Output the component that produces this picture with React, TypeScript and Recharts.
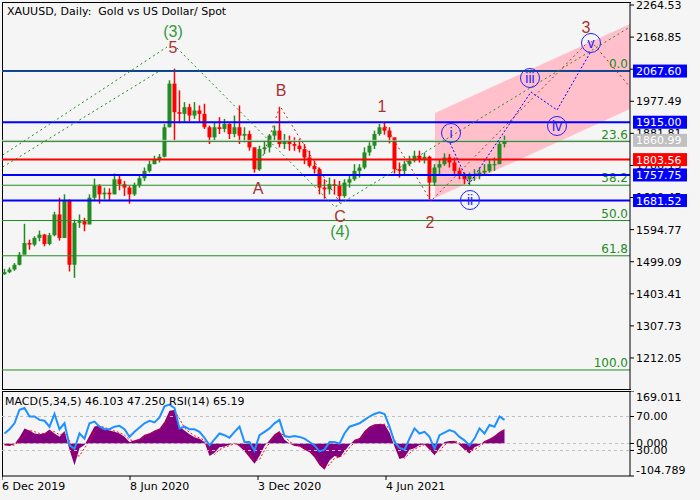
import React from "react";
import {
  ComposedChart,
  Bar,
  Line,
  Area,
  Scatter,
  XAxis,
  YAxis,
  ReferenceLine,
} from "recharts";

// ---- price data: one bar per 5 trading days, from 6 Dec 2019 ----
const firstOpen = 1462;
const closes = [
  1468, 1476, 1490, 1520, 1555, 1550, 1570, 1580, 1552, 1578, 1640, 1570, 1680, 1490, 1615, 1620, 1610, 1690, 1725, 1700,
  1705, 1700, 1745, 1730, 1720, 1700, 1728, 1748, 1770, 1790, 1805, 1812, 1900, 2030, 1945, 1940, 1960, 1935, 1950, 1940,
  1900, 1870, 1900, 1895, 1910, 1880, 1900, 1875, 1880, 1840, 1775, 1835, 1840, 1875, 1890, 1850, 1860, 1850, 1845, 1835,
  1810, 1785, 1775, 1720, 1715, 1730, 1725, 1695, 1735, 1745, 1770, 1780, 1825, 1845, 1880, 1900, 1890, 1870, 1775, 1770,
  1790, 1800, 1815, 1805, 1812, 1735, 1780, 1790, 1810, 1795, 1770, 1755, 1745, 1755, 1760, 1765, 1770, 1790, 1790, 1850,
  1861,
];
const highs = [
  1478, 1482, 1495, 1528, 1612, 1565, 1575, 1592, 1582, 1585, 1648, 1690, 1700, 1685, 1625, 1640, 1630, 1700, 1747, 1730,
  1720, 1718, 1762, 1760, 1740, 1725, 1735, 1755, 1780, 1800, 1815, 1820, 1910, 2040, 2075, 2010, 1975, 1970, 1975, 1965,
  1970, 1905, 1915, 1930, 1925, 1912, 1935, 1965, 1900, 1890, 1840, 1845, 1860, 1880, 1905, 1960, 1880, 1875, 1870, 1865,
  1850, 1830, 1800, 1780, 1745, 1750, 1745, 1740, 1745, 1755, 1790, 1790, 1840, 1855, 1890, 1910, 1916, 1900, 1862, 1795,
  1800, 1815, 1830, 1830, 1825, 1815, 1790, 1805, 1822, 1820, 1810, 1780, 1765, 1765, 1775, 1780, 1790, 1805, 1810, 1860,
  1875,
];
const lows = [
  1460, 1465, 1472, 1488, 1530, 1535, 1545, 1560, 1545, 1548, 1575, 1562, 1575, 1470, 1451, 1600, 1590, 1620, 1680, 1672,
  1685, 1682, 1700, 1712, 1695, 1672, 1695, 1720, 1740, 1765, 1790, 1795, 1810, 1900, 1861, 1912, 1915, 1918, 1925, 1915,
  1895, 1850, 1862, 1880, 1885, 1865, 1870, 1850, 1855, 1830, 1765, 1770, 1820, 1825, 1860, 1840, 1835, 1830, 1830, 1825,
  1790, 1780, 1762, 1700, 1687, 1700, 1700, 1681, 1690, 1720, 1740, 1750, 1775, 1815, 1835, 1875, 1878, 1852, 1762, 1750,
  1755, 1785, 1795, 1795, 1792, 1686, 1725, 1760, 1785, 1780, 1755, 1745, 1730, 1727, 1740, 1745, 1755, 1765, 1770, 1790,
  1840,
];

// ---- MACD(5,34,5) histogram, its signal, and RSI(14), same bars ----
const macdHist = [
  -6, -8, -2, 20, 48, 42, 32, 30, 33, 45, 32, 22, 40, -20, -70, -15, -5, 25, 55, 58,
  48, 42, 38, 32, 22, 5, 10, 15, 28, 33, 42, 48, 70, 105, 108, 55, 42, 30, 20, 15,
  5, -40, -30, -12, -10, -4, 2, -10, -25, -45, -65, -40, -8, 10, 30, 40, 12, 0, -8, -10,
  -20, -28, -45, -70, -85, -55, -40, -45, -25, -5, 12, 18, 40, 55, 62, 63, 62, 35, -10, -50,
  -45, -20, -15, -5, -3, -20, -38, -15, 5, 8, 8, -5, -20, -32, -12, -5, 8, 15, 25, 38,
  47,
];
const macdSignal = [
  -4, -6, -5, 8, 30, 42, 38, 32, 31, 38, 38, 28, 32, 10, -40, -40, -15, 8, 38, 55,
  52, 45, 40, 35, 27, 12, 8, 12, 22, 30, 38, 45, 60, 88, 105, 80, 50, 36, 25, 18,
  10, -18, -35, -20, -12, -7, -1, -5, -18, -35, -55, -52, -22, 2, 20, 35, 25, 6, -4, -9,
  -15, -24, -36, -58, -78, -68, -48, -44, -34, -14, 4, 15, 30, 48, 58, 62, 62, 48, 12, -30,
  -48, -32, -18, -10, -4, -12, -30, -25, -5, 5, 8, 2, -12, -26, -20, -9, 2, 12, 20, 32,
  43,
];
const rsiValues = [
  50, 55, 62, 78, 80, 70, 70, 66, 65, 58, 73, 55, 62, 36, 32, 50, 44, 62, 64, 58,
  55, 55, 58, 59, 55, 46, 52, 57, 62, 65, 63, 69, 82, 84, 80, 56, 58, 55, 55, 52,
  45, 36, 43, 50, 48, 45, 52, 58, 40, 40, 30, 48, 52, 56, 62, 66, 47, 46, 47, 46,
  44, 40, 36, 29, 31, 40, 40, 38, 50, 58, 60, 62, 66, 70, 73, 75, 73, 58, 40, 33,
  31, 44, 56, 50, 52, 46, 32, 48, 51, 54, 52, 46, 42, 36, 44, 56, 50, 60, 58, 70,
  66,
];

// ---- levels ----
const priceTicks = [2264.53, 2168.85, 2073.17, 1977.49, 1881.81, 1786.13, 1690.45, 1594.77, 1499.09, 1403.41, 1307.73, 1212.05];
const resistanceTop = 2067.6;
const blueLevels = [1915.0, 1757.75, 1681.52];
const redLevel = 1803.56;
const currentPrice = 1860.99;
const fibHigh = 2067.6;
const fibLow = 1176.3;
const fibRatios = [0, 23.6, 38.2, 50, 61.8, 100];

// ---- wave lines: x in trading days from the first bar, p = price ----
const greenPaths = [
  [{ x: 0.7, p: 1817.3 }, { x: 165, p: 2139.3 }],
  [{ x: 0.7, p: 1781.5 }, { x: 158, p: 2068.7 }],
  [{ x: 175, p: 2136.3 }, { x: 333, p: 1662.2 }, { x: 628, p: 2199.0 }],
];
const redPaths = [
  [{ x: 256, p: 1772.6 }, { x: 278, p: 1963.4 }, { x: 338, p: 1674.2 }],
  [{ x: 381, p: 1915.7 }, { x: 429, p: 1680.2 }, { x: 588, p: 2160.2 }, { x: 628, p: 2020.1 }],
];
const minorPath = [
  { x: 448, p: 1853.1 },
  { x: 467, p: 1730.8 },
  { x: 529, p: 2005.2 },
  { x: 555, p: 1951.5 },
  { x: 588, p: 2121.4 },
];
const channel = [
  { x: 433, band: [1689.1, 1942.5] },
  { x: 628, band: [1954.5, 2207.9] },
];

// ---- wave labels ----
const intermediateLabels = [
  { x: 171, p: 2187.0, t: "(3)" },
  { x: 338, p: 1590.7, t: "(4)" },
];
const primaryLabels = [
  { x: 171, p: 2139.3, t: "5" },
  { x: 279, p: 2011.1, t: "B" },
  { x: 256, p: 1718.9, t: "A" },
  { x: 338, p: 1635.4, t: "C" },
  { x: 380, p: 1963.4, t: "1" },
  { x: 428, p: 1617.5, t: "2" },
  { x: 584, p: 2196.0, t: "3" },
];
const minorLabels = [
  { x: 449, p: 1882.9, t: "i" },
  { x: 468, p: 1683.1, t: "ii" },
  { x: 528, p: 2046.9, t: "iii" },
  { x: 555, p: 1903.8, t: "iv" },
  { x: 589, p: 2151.3, t: "v" },
];

const dateTickPos = [0, 128, 256, 384];
const dateTickLabels = ["6 Dec 2019", "8 Jun 2020", "3 Dec 2020", "4 Jun 2021"];

const macdMax = 169.011;
const macdMin = -104.789;

// ---- styling ----
const FONT = "DejaVu Sans, sans-serif";
const BG = "#f5f5f5";
const UP = "#228b22";
const DOWN = "#ff0000";
const FIB = "#228b22";
const BLUE = "#0000ff";
const WAVE_RED = "#a83232";
const WAVE_GREEN = "#2f9a3a";
const MINOR = "#2222ff";
const BAR_DAYS = 5;
const X_DOMAIN: [number, number] = [0, 628];
const PRICE_DOMAIN: [number, number] = [1119.6, 2273.5];
const TOP_PAD = 10;

const candles = closes.map((c, i) => ({
  x: BAR_DAYS / 2 + i * BAR_DAYS,
  o: i === 0 ? firstOpen : closes[i - 1],
  h: highs[i],
  l: lows[i],
  c,
  range: [lows[i], highs[i]],
}));

const oscData = macdHist.map((m, i) => ({
  x: BAR_DAYS / 2 + i * BAR_DAYS,
  hist: m,
  signal: macdSignal[i],
  rsi: rsiValues[i],
}));

function Candle(props: any) {
  const { x, y, width, height, payload } = props;
  if (x == null || y == null) return null;
  const { o, h, l, c } = payload;
  const hh = Math.abs(height);
  const k = h === l ? 0 : hh / (h - l);
  const color = c >= o ? UP : DOWN;
  const mid = x + width / 2;
  const yO = y + (h - o) * k;
  const yC = y + (h - c) * k;
  const top = Math.min(yO, yC);
  const bh = Math.max(1, Math.abs(yC - yO));
  return (
    <g>
      <line x1={mid} x2={mid} y1={y} y2={y + hh} stroke={color} strokeWidth={1.5} />
      <rect x={mid - 2} y={top} width={4} height={bh} fill={color} />
    </g>
  );
}

function PriceTag({ viewBox, text, fill }: any) {
  if (!viewBox) return null;
  const { x, y, width } = viewBox;
  const left = x + width + 3;
  return (
    <g>
      <rect x={left} y={y - 6.5} width={54} height={13} fill={fill} />
      <text x={left + 3} y={y} dy="0.36em" fill="#fff" fontSize={11} fontFamily={FONT}>
        {text}
      </text>
    </g>
  );
}

function FibTag({ viewBox, text }: any) {
  if (!viewBox) return null;
  const { x, y, width } = viewBox;
  return (
    <text x={x + width - 2} y={y - 3} textAnchor="end" fill={FIB} fontSize={12} fontFamily={FONT}>
      {text}
    </text>
  );
}

function RsiTag({ viewBox, text }: any) {
  if (!viewBox) return null;
  const { x, y, width } = viewBox;
  const r = x + width;
  return (
    <g>
      <line x1={r} x2={r + 4} y1={y} y2={y} stroke="#000" />
      <text x={r + 6} y={y} dy="0.36em" fill="#000" fontSize={11} fontFamily={FONT}>
        {text}
      </text>
    </g>
  );
}

function WaveText({ cx, cy, payload, color }: any) {
  return (
    <text x={cx} y={cy} textAnchor="middle" dominantBaseline="central" fill={color} fontSize={16} fontFamily="Liberation Sans, sans-serif">
      {payload.t}
    </text>
  );
}

function MinorText({ cx, cy, payload }: any) {
  return (
    <g>
      <circle cx={cx} cy={cy} r={9.5} fill="none" stroke={MINOR} strokeWidth={1} />
      <text x={cx} y={cy} textAnchor="middle" dominantBaseline="central" fill={MINOR} fontSize={14} fontFamily="Liberation Sans, sans-serif">
        {payload.t}
      </text>
    </g>
  );
}

function DateTick({ x, y, payload }: any) {
  const i = dateTickPos.indexOf(payload.value);
  return (
    <text x={x} y={y} dy="0.71em" fill="#000" fontSize={11} fontFamily={FONT}>
      {dateTickLabels[i]}
    </text>
  );
}

function MacdTick({ x, y, payload }: any) {
  const v = payload.value;
  const dy = v === macdMax ? 6 : v === macdMin ? -6 : 0;
  return (
    <text x={x} y={y + dy} dy="0.36em" fill="#000" fontSize={11} fontFamily={FONT}>
      {v.toFixed(3)}
    </text>
  );
}

const chartMargin = { top: TOP_PAD, right: 0, bottom: 0, left: 0 };

export default function App() {
  const fibPrices = fibRatios.map((r) => fibHigh - (r / 100) * (fibHigh - fibLow));
  return (
    <div style={{ position: "absolute", left: 0, top: 0, width: 700, height: 500, background: BG, overflow: "hidden" }}>
      <div
        style={{
          position: "absolute",
          left: 2,
          top: 2,
          width: 629,
          height: 388,
          boxSizing: "border-box",
          borderLeft: "1px solid #000",
          borderTop: "1px solid #000",
          borderBottom: "1px solid #000",
        }}
      />
      <div
        style={{
          position: "absolute",
          left: 2,
          top: 391,
          width: 629,
          height: 86,
          boxSizing: "border-box",
          borderLeft: "1px solid #000",
          borderTop: "1px solid #000",
        }}
      />

      {/* price panel */}
      <div style={{ position: "absolute", left: 2, top: 2 - TOP_PAD }}>
        <ComposedChart width={698} height={387 + TOP_PAD} data={candles} margin={chartMargin}>
          <XAxis dataKey="x" type="number" domain={X_DOMAIN} hide allowDataOverflow />
          <YAxis
            orientation="right"
            domain={PRICE_DOMAIN}
            ticks={priceTicks}
            interval={0}
            width={70}
            tickSize={4}
            tickMargin={2}
            allowDataOverflow
            axisLine={{ stroke: "#000" }}
            tickLine={{ stroke: "#000" }}
            tick={{ fill: "#000", fontSize: 11, fontFamily: FONT, textAnchor: "start" }}
            tickFormatter={(v: number) => v.toFixed(2)}
          />
          <Area
            data={channel}
            dataKey="band"
            type="linear"
            fill="#ffc0cb"
            fillOpacity={1}
            stroke="none"
            isAnimationActive={false}
          />
          {fibPrices.map((p, i) => (
            <ReferenceLine
              key={`fib-${i}`}
              y={p}
              stroke={FIB}
              strokeWidth={1}
              label={<FibTag text={fibRatios[i].toFixed(1)} />}
            />
          ))}
          <ReferenceLine y={resistanceTop} stroke={BLUE} strokeWidth={2} />
          <ReferenceLine y={resistanceTop} stroke={FIB} strokeWidth={1} />
          <ReferenceLine y={currentPrice} stroke="#c0c0c0" strokeWidth={1} />
          {blueLevels.map((p) => (
            <ReferenceLine key={`b-${p}`} y={p} stroke={BLUE} strokeWidth={2} />
          ))}
          <ReferenceLine y={redLevel} stroke={DOWN} strokeWidth={2} />

          <Bar dataKey="range" barSize={4} shape={<Candle />} isAnimationActive={false} />

          {greenPaths.map((d, i) => (
            <Line
              key={`g-${i}`}
              data={d}
              dataKey="p"
              type="linear"
              stroke={UP}
              strokeWidth={1}
              strokeDasharray="2 3"
              dot={false}
              isAnimationActive={false}
            />
          ))}
          {redPaths.map((d, i) => (
            <Line
              key={`r-${i}`}
              data={d}
              dataKey="p"
              type="linear"
              stroke={WAVE_RED}
              strokeWidth={1}
              strokeDasharray="2 3"
              dot={false}
              isAnimationActive={false}
            />
          ))}
          <Line
            data={minorPath}
            dataKey="p"
            type="linear"
            stroke={BLUE}
            strokeWidth={1}
            strokeDasharray="2 2"
            dot={false}
            isAnimationActive={false}
          />

          <Scatter data={intermediateLabels} dataKey="p" isAnimationActive={false} shape={(p: any) => <WaveText {...p} color={WAVE_GREEN} />} />
          <Scatter data={primaryLabels} dataKey="p" isAnimationActive={false} shape={(p: any) => <WaveText {...p} color={WAVE_RED} />} />
          <Scatter data={minorLabels} dataKey="p" isAnimationActive={false} shape={(p: any) => <MinorText {...p} />} />
        </ComposedChart>
      </div>

      {/* price tags drawn over the axis labels */}
      <div style={{ position: "absolute", left: 2, top: 2 - TOP_PAD }}>
        <ComposedChart width={698} height={387 + TOP_PAD} data={candles} margin={chartMargin}>
          <XAxis dataKey="x" type="number" domain={X_DOMAIN} hide allowDataOverflow />
          <YAxis orientation="right" domain={PRICE_DOMAIN} width={70} allowDataOverflow tick={false} axisLine={false} tickLine={false} />
          <ReferenceLine y={resistanceTop} stroke="none" label={<PriceTag text={resistanceTop.toFixed(2)} fill={BLUE} />} />
          <ReferenceLine y={currentPrice} stroke="none" label={<PriceTag text={currentPrice.toFixed(2)} fill="#c0c0c0" />} />
          {blueLevels.map((p) => (
            <ReferenceLine key={`bt-${p}`} y={p} stroke="none" label={<PriceTag text={p.toFixed(2)} fill={BLUE} />} />
          ))}
          <ReferenceLine y={redLevel} stroke="none" label={<PriceTag text={redLevel.toFixed(2)} fill={DOWN} />} />
        </ComposedChart>
      </div>

      {/* oscillator panel */}
      <div style={{ position: "absolute", left: 2, top: 391 }}>
        <ComposedChart width={698} height={105} data={oscData} margin={{ top: 0, right: 0, bottom: 0, left: 0 }}>
          <XAxis
            dataKey="x"
            type="number"
            domain={X_DOMAIN}
            ticks={dateTickPos}
            interval={0}
            height={20}
            tickSize={4}
            allowDataOverflow
            axisLine={{ stroke: "#000" }}
            tickLine={{ stroke: "#000" }}
            tick={<DateTick />}
          />
          <YAxis
            yAxisId="macd"
            orientation="right"
            domain={[macdMin, macdMax]}
            ticks={[macdMax, 0, macdMin]}
            interval={0}
            width={70}
            tickSize={4}
            tickMargin={2}
            allowDataOverflow
            axisLine={{ stroke: "#000" }}
            tickLine={{ stroke: "#000" }}
            tick={<MacdTick />}
          />
          <YAxis yAxisId="rsi" domain={[0, 100]} hide allowDataOverflow />
          <ReferenceLine yAxisId="macd" y={0} stroke="#c0c0c0" strokeDasharray="3 3" />
          <ReferenceLine yAxisId="rsi" y={70} stroke="#c0c0c0" strokeDasharray="3 3" label={<RsiTag text="70.00" />} />
          <ReferenceLine yAxisId="rsi" y={30} stroke="#c0c0c0" strokeDasharray="3 3" label={<RsiTag text="30.00" />} />
          <Area
            yAxisId="macd"
            dataKey="hist"
            type="linear"
            baseValue={0}
            fill="#800080"
            fillOpacity={1}
            stroke="none"
            isAnimationActive={false}
          />
          <Line
            yAxisId="macd"
            dataKey="signal"
            type="linear"
            stroke="#ff0000"
            strokeWidth={1}
            strokeDasharray="2 2"
            dot={false}
            isAnimationActive={false}
          />
          <Line
            yAxisId="rsi"
            dataKey="rsi"
            type="linear"
            stroke="#1e90ff"
            strokeWidth={2}
            dot={false}
            isAnimationActive={false}
          />
        </ComposedChart>
      </div>

      <div
        style={{
          position: "absolute",
          left: 7,
          top: 5,
          fontSize: 11,
          lineHeight: "14px",
          fontFamily: FONT,
          whiteSpace: "pre",
          color: "#000",
        }}
      >
        {"XAUUSD, Daily:  Gold vs US Dollar/ Spot"}
      </div>
      <div
        style={{
          position: "absolute",
          left: 5,
          top: 395,
          fontSize: 11,
          lineHeight: "14px",
          fontFamily: FONT,
          whiteSpace: "pre",
          color: "#000",
        }}
      >
        {"MACD(5,34,5) 46.103 47.250 RSI(14) 65.19"}
      </div>
    </div>
  );
}
